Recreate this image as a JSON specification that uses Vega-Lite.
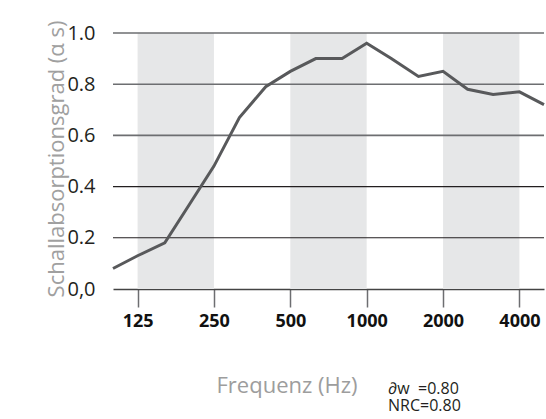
{
  "$schema": "https://vega.github.io/schema/vega-lite/v6.json",
  "autosize": {"type": "none"},
  "padding": {"left": 113, "top": 33, "right": 2, "bottom": 130},
  "width": 431,
  "height": 256,
  "background": "white",
  "title": {
    "text": ["∂w\u00a0\u00a0=0.80", "NRC=0.80"],
    "orient": "bottom",
    "anchor": "start",
    "frame": "group",
    "baseline": "alphabetic",
    "offset": -2,
    "dx": 275,
    "font": "Open Sans",
    "fontSize": 16,
    "fontWeight": "normal",
    "color": "#231f20",
    "lineHeight": 17
  },
  "config": {
    "view": {"stroke": null},
    "font": "Open Sans"
  },
  "layer": [
    {
      "data": {"values": [
        {"start": 125, "end": 250},
        {"start": 500, "end": 1000},
        {"start": 2000, "end": 4000}
      ]},
      "mark": {"type": "rect", "color": "#e6e7e8"},
      "encoding": {
        "x": {
          "field": "start", "type": "quantitative",
          "scale": {"type": "log", "domain": [100, 5000], "nice": false},
          "axis": {
            "values": [125, 250, 500, 1000, 2000, 4000],
            "format": "d",
            "grid": false,
            "domain": true,
            "domainColor": "#444444",
            "domainWidth": 1.5,
            "ticks": true,
            "tickSize": 18,
            "tickColor": "#6d6e71",
            "tickWidth": 1.5,
            "labelFont": "Open Sans",
            "labelFontSize": 18,
            "labelFontWeight": "bold",
            "labelColor": "#111111",
            "labelPadding": 5,
            "title": "Frequenz (Hz)",
            "titleFont": "Open Sans",
            "titleFontSize": 22,
            "titleFontWeight": "normal",
            "titleColor": "#9d9d9d",
            "titleX": 173.5,
            "titleY": 103,
            "titleAlign": "center",
            "titleBaseline": "alphabetic"
          }
        },
        "x2": {"field": "end"},
        "y": {
          "datum": 0, "type": "quantitative",
          "scale": {"domain": [0, 1], "nice": false},
          "axis": {
            "values": [0, 0.2, 0.4, 0.6, 0.8, 1.0],
            "labelExpr": "datum.value == 0 ? '0,0' : format(datum.value, '.1f')",
            "grid": false,
            "domain": false,
            "ticks": false,
            "labelFont": "Open Sans",
            "labelFontSize": 20,
            "labelColor": "#231f20",
            "labelPadding": 18,
            "title": "Schallabsorptionsgrad (α s)",
            "titleFont": "Open Sans",
            "titleFontSize": 22,
            "titleFontWeight": "normal",
            "titleColor": "#a0a0a0",
            "titleX": -50,
            "titleY": 125.5,
            "titleAlign": "center",
            "titleBaseline": "alphabetic",
            "titleAngle": -90
          }
        },
        "y2": {"datum": 1}
      }
    },
    {
      "data": {"values": [
        {"g": 0.2}, {"g": 0.4}, {"g": 0.6}, {"g": 0.8}, {"g": 1.0}
      ]},
      "mark": {"type": "rule"},
      "encoding": {
        "y": {"field": "g", "type": "quantitative"},
        "color": {
          "condition": {"test": "datum.g >= 0.5", "value": "#6d6e71"},
          "value": "#231f20"
        },
        "strokeWidth": {
          "condition": {"test": "datum.g >= 0.5", "value": 1.6},
          "value": 1.1
        }
      }
    },
    {
      "data": {"values": [
        {"f": 100, "a": 0.08},
        {"f": 125, "a": 0.13},
        {"f": 160, "a": 0.18},
        {"f": 200, "a": 0.33},
        {"f": 250, "a": 0.48},
        {"f": 315, "a": 0.67},
        {"f": 400, "a": 0.79},
        {"f": 500, "a": 0.85},
        {"f": 630, "a": 0.90},
        {"f": 800, "a": 0.90},
        {"f": 1000, "a": 0.96},
        {"f": 1250, "a": 0.90},
        {"f": 1600, "a": 0.83},
        {"f": 2000, "a": 0.85},
        {"f": 2500, "a": 0.78},
        {"f": 3150, "a": 0.76},
        {"f": 4000, "a": 0.77},
        {"f": 5000, "a": 0.72}
      ]},
      "mark": {"type": "line", "color": "#58595b", "strokeWidth": 3, "clip": false},
      "encoding": {
        "x": {"field": "f", "type": "quantitative"},
        "y": {"field": "a", "type": "quantitative"}
      }
    }
  ]
}
